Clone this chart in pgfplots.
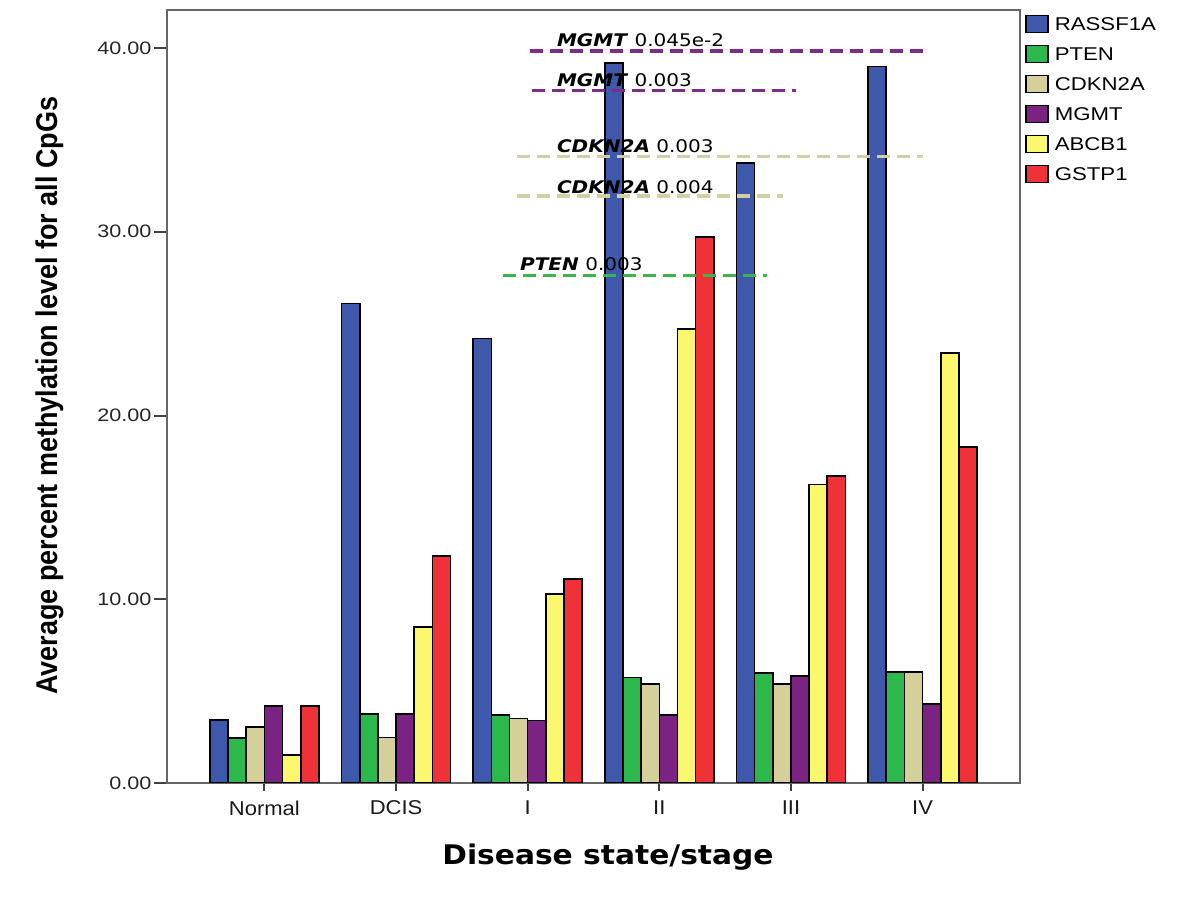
\documentclass[border=0pt]{standalone}
\usepackage{fontspec}
\setmainfont{Liberation Sans}
\usepackage{pgfplots}
\pgfplotsset{compat=1.18}
\newfontfamily\tickfont[FakeStretch=1.2]{Liberation Sans}
\newfontfamily\xtfont[FakeStretch=1.1]{Liberation Sans}
\newfontfamily\annfont[FakeStretch=1.15]{DejaVu Sans}
\newfontfamily\ylabfont[FakeStretch=0.9]{Liberation Sans}
\newfontfamily\xlabfont[FakeStretch=1.1]{DejaVu Sans}
\definecolor{cRASS}{HTML}{3E58AC}
\definecolor{cPTEN}{HTML}{2DB84B}
\definecolor{cCDK}{HTML}{D5CF99}
\definecolor{cMGMT}{HTML}{7B2383}
\definecolor{cABC}{HTML}{FBF76F}
\definecolor{cGST}{HTML}{EE3238}
\definecolor{lMGMT}{HTML}{7E2C86}
\definecolor{lCDK}{HTML}{D4CFA3}
\definecolor{lPTEN}{HTML}{3BB54A}
\begin{document}
\begin{tikzpicture}
\useasboundingbox (0,0) rectangle (600pt,450pt);
\begin{axis}[
  at={(83.5pt,58.5pt)}, anchor=south west,
  scale only axis, width=426.5pt, height=386.5pt,
  xmin=-0.74, xmax=5.74, ymin=0, ymax=42.07,
  ybar=0pt, bar width=0.138,
  xtick={0,1,2,3,4,5}, xticklabels={Normal,DCIS,I,II,III,IV},
  ytick={0,10,20,30,40}, yticklabels={0.00,10.00,20.00,30.00,40.00},
  xtick pos=bottom, ytick pos=left, tick align=outside,
  xtick style={/pgfplots/major tick length=4pt, line width=1pt, black!75},
  ytick style={/pgfplots/major tick length=6.5pt, line width=1pt, black!75},
  axis line style={draw=black!60, line width=1pt},
  yticklabel style={font=\tickfont\fontsize{9}{10}\selectfont, text=black!85},
  xticklabel style={font=\xtfont\fontsize{10}{12}\selectfont, text=black!90, yshift=-1pt},
  xlabel={Disease state/stage},
  xlabel style={font=\xlabfont\bfseries\fontsize{13.5}{15}\selectfont, at={(axis description cs:0.517,-0.0957)}, anchor=center},
  ylabel={Average percent methylation level for all CpGs},
  ylabel style={font=\ylabfont\bfseries\fontsize{15}{17}\selectfont, at={(axis description cs:-0.137,0.501)}, anchor=center},
  legend style={at={(1,1)}, anchor=north west, xshift=2.5pt, yshift=-2.25pt, draw=none, fill=none, inner sep=0pt,
    font=\tickfont\fontsize{9.25}{11}\selectfont, row sep=5.6pt,
    nodes={inner sep=0pt, anchor=base west},
    /tikz/every odd column/.append style={column sep=3pt}},
  legend cell align=left,
  legend image code/.code={\draw[#1, line width=0.7pt] (0pt,-0.95pt) rectangle (11pt,7.55pt);},
]
\addplot[fill=cRASS, draw=black, line width=0.8pt] coordinates {(0,3.42) (1,26.1) (2,24.2) (3,39.2) (4,33.75) (5,39.0)};
\addplot[fill=cPTEN, draw=black, line width=0.8pt] coordinates {(0,2.45) (1,3.75) (2,3.7) (3,5.75) (4,5.98) (5,6.05)};
\addplot[fill=cCDK, draw=black, line width=0.8pt] coordinates {(0,3.04) (1,2.48) (2,3.5) (3,5.4) (4,5.38) (5,6.05)};
\addplot[fill=cMGMT, draw=black, line width=0.8pt] coordinates {(0,4.2) (1,3.75) (2,3.4) (3,3.7) (4,5.82) (5,4.3)};
\addplot[fill=cABC, draw=black, line width=0.8pt] coordinates {(0,1.52) (1,8.48) (2,10.3) (3,24.7) (4,16.25) (5,23.4)};
\addplot[fill=cGST, draw=black, line width=0.8pt] coordinates {(0,4.2) (1,12.35) (2,11.1) (3,29.7) (4,16.7) (5,18.3)};
\legend{RASSF1A,PTEN,CDKN2A,MGMT,ABCB1,GSTP1}
\addplot[sharp plot, no markers, forget plot, draw=lMGMT, line width=1.6pt, dash pattern=on 6.5pt off 3.5pt] coordinates {(2.016,39.84) (5.0,39.84)};
\addplot[sharp plot, no markers, forget plot, draw=lMGMT, line width=1.6pt, dash pattern=on 6.5pt off 3.5pt] coordinates {(2.03,37.7) (4.04,37.7)};
\addplot[sharp plot, no markers, forget plot, draw=lCDK, line width=1.6pt, dash pattern=on 6.5pt off 3.5pt] coordinates {(1.917,34.1) (5.0,34.1)};
\addplot[sharp plot, no markers, forget plot, draw=lCDK, line width=1.6pt, dash pattern=on 6.5pt off 3.5pt] coordinates {(1.917,31.95) (3.94,31.95)};
\addplot[sharp plot, no markers, forget plot, draw=lPTEN, line width=1.6pt, dash pattern=on 6.5pt off 3.5pt] coordinates {(1.81,27.6) (3.82,27.6)};
\node[anchor=base west, inner sep=0pt, font=\annfont\fontsize{8.7}{10}\selectfont] at (axis cs:2.22,40.08) {\textbf{\textit{MGMT}} 0.045e-2};
\node[anchor=base west, inner sep=0pt, font=\annfont\fontsize{8.7}{10}\selectfont] at (axis cs:2.22,37.93) {\textbf{\textit{MGMT}} 0.003};
\node[anchor=base west, inner sep=0pt, font=\annfont\fontsize{8.7}{10}\selectfont] at (axis cs:2.22,34.3) {\textbf{\textit{CDKN2A}} 0.003};
\node[anchor=base west, inner sep=0pt, font=\annfont\fontsize{8.7}{10}\selectfont] at (axis cs:2.22,32.1) {\textbf{\textit{CDKN2A}} 0.004};
\node[anchor=base west, inner sep=0pt, font=\annfont\fontsize{8.7}{10}\selectfont] at (axis cs:1.94,27.9) {\textbf{\textit{PTEN}} 0.003};
\end{axis}
\end{tikzpicture}
\end{document}
